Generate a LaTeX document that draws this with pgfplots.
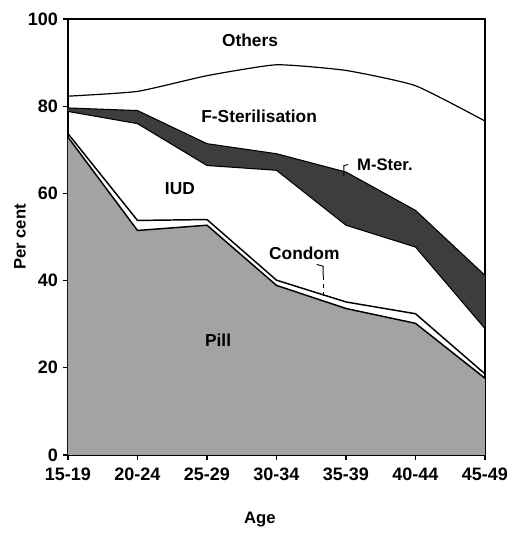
\documentclass[border=0pt]{standalone}
\usepackage{pgfplots}
\pgfplotsset{compat=1.18}
\usepgfplotslibrary{fillbetween}
\usepackage{fontspec}
\setmainfont{Liberation Sans}

\begin{document}
\begin{tikzpicture}
\begin{axis}[
    scale only axis,
    width=312.75pt,
    height=327pt,
    xmin=0, xmax=6,
    ymin=0, ymax=100,
    xtick={0,1,2,3,4,5,6},
    xticklabels={15-19,20-24,25-29,30-34,35-39,40-44,45-49},
    ytick={0,20,40,60,80,100},
    xtick pos=left, ytick pos=left,
    tick align=outside,
    major tick length=4pt,
    axis line style={black, line width=1.2pt},
    tick style={black, line width=0.9pt},
    ticklabel style={font=\fontsize{13.5}{15}\selectfont\bfseries},
    xticklabel style={yshift=-2pt},
    /pgf/number format/assume math mode=true,
    xlabel={Age},
    ylabel={Per cent},
    label style={font=\fontsize{12.5}{14}\selectfont\bfseries},
    xlabel style={at={(axis description cs:0.46,-0.149)}, anchor=center},
    ylabel style={at={(axis description cs:-0.115,0.5)}, anchor=center},
    clip=false,
]
% cumulative boundaries (per cent)
\addplot[draw=none, name path=base] coordinates {(0,0) (6,0)};
\addplot[draw=none, name path=pill] coordinates {
    (0,72.9) (1,51.5) (2,52.7) (3,38.9) (4,33.6) (5,30.2) (6,17.6)};
\addplot[draw=none, name path=iud] coordinates {
    (0,78.8) (1,76.0) (2,66.4) (3,65.3) (4,52.7) (5,47.7) (6,29.0)};
\addplot[draw=none, name path=mster] coordinates {
    (0,79.6) (1,79.0) (2,71.4) (3,69.1) (4,64.9) (5,56.1) (6,41.2)};

\addplot[fill=black!36, draw=none] fill between[of=pill and base];
\addplot[fill=black!76, draw=none] fill between[of=iud and mster];

% pill / condom edges
\addplot[black, line width=1.1pt] coordinates {
    (0,72.9) (1,51.5) (2,52.7) (3,38.9) (4,33.6) (5,30.2) (6,17.6)};
\addplot[black, line width=1.1pt] coordinates {
    (0,73.7) (1,53.8) (2,54.0) (3,40.1) (4,35.1) (5,32.4) (6,18.6)};
% IUD / M-Ster. edges
\addplot[black, line width=0.8pt] coordinates {
    (0,78.8) (1,76.0) (2,66.4) (3,65.3) (4,52.7) (5,47.7) (6,29.0)};
\addplot[black, line width=0.8pt] coordinates {
    (0,79.6) (1,79.0) (2,71.4) (3,69.1) (4,64.9) (5,56.1) (6,41.2)};
% F-Sterilisation / Others
\addplot[black, line width=0.9pt, smooth, tension=0.3] coordinates {
    (0,82.3) (1,83.4) (2,87.0) (3,89.5) (4,88.2) (5,84.7) (6,76.6)};

\node[font=\fontsize{13}{15}\selectfont\bfseries] at (axis cs:2.62,95.2) {Others};
\node[font=\fontsize{13}{15}\selectfont\bfseries] at (axis cs:2.75,77.6) {F-Sterilisation};
\node[font=\fontsize{13}{15}\selectfont\bfseries] at (axis cs:1.61,61.2) {IUD};
\node[font=\fontsize{12.5}{15}\selectfont\bfseries] at (axis cs:4.56,66.6) {M-Ster.};
\node[font=\fontsize{13}{15}\selectfont\bfseries] at (axis cs:3.40,46.3) {Condom};
\node[font=\fontsize{13}{15}\selectfont\bfseries] at (axis cs:2.16,26.4) {Pill};
\draw[black, line width=0.7pt] (axis cs:3.97,64.0) -- (axis cs:3.97,66.4) -- (axis cs:4.03,66.6);
\draw[black, line width=0.7pt] (axis cs:3.58,43.7) -- (axis cs:3.67,43.3) -- (axis cs:3.67,41.0);
\draw[black, line width=0.7pt, dashed] (axis cs:3.67,41.0) -- (axis cs:3.67,36.3);

\path (rel axis cs:0,0) ++(-51pt,-58.5pt) rectangle ++(384pt,399.75pt);
\end{axis}
\end{tikzpicture}
\end{document}
